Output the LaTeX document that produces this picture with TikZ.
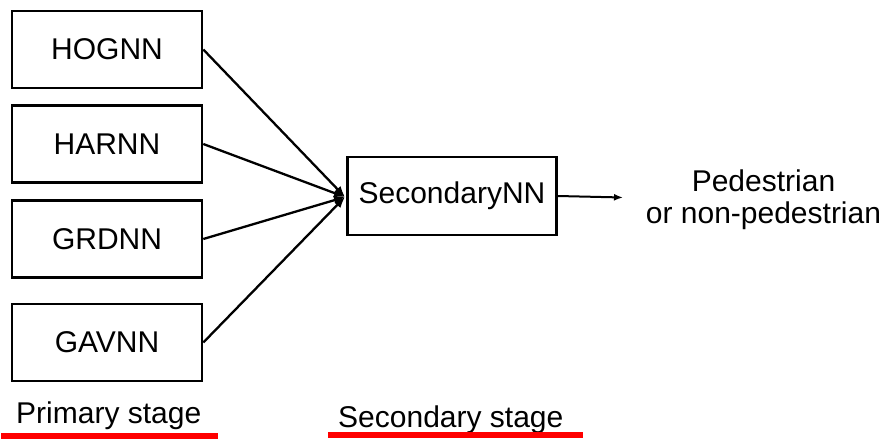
\documentclass[tikz,border=0pt]{standalone}
\usepackage{fontspec}
\setmainfont{Liberation Sans}
\usetikzlibrary{arrows.meta}
\begin{document}
\begin{tikzpicture}[x=1pt,y=-1pt,
  nnbox/.style={draw=black, line width=2.6pt, minimum width=190pt, minimum height=77pt,
    inner sep=0pt, font=\fontsize{30}{34}\selectfont},
  link/.style={line width=2.3pt, -{Latex[length=11pt,width=9pt]}},
  outlink/.style={line width=2pt, -{Latex[length=9pt,width=7pt]}},
  label/.style={font=\fontsize{30}{32}\selectfont, inner sep=0pt},
  underline/.style={red, line width=6pt}]
  \useasboundingbox (0,0) rectangle (888,439);

  % primary-stage networks
  \node[nnbox] (hog) at (107,49.5) {HOGNN};
  \node[nnbox] (har) at (107,144) {HARNN};
  \node[nnbox] (grd) at (107,239) {GRDNN};
  \node[nnbox] (gav) at (107,342.5) {GAVNN};

  % secondary-stage network
  \node[nnbox, minimum width=209pt, minimum height=78pt] (sec) at (452,196) {SecondaryNN};
  \coordinate (hub) at (345,197);
  \coordinate (out) at (623,197.5);

  \foreach \n in {hog,har,grd,gav}
    \draw[link] (\n.east) -- (hub);
  \draw[outlink] (sec.east) -- (out);

  \node[label, align=center] (result) at (763.5,200) {Pedestrian\\or non-pedestrian};

  % stage captions
  \node[label, anchor=base west] (primcap) at (16,423) {Primary stage};
  \node[label, anchor=base west] (seccap) at (338,427) {Secondary stage};
  \draw[underline] (1,436) -- (218,436);
  \draw[underline] (328,435) -- (583,435);
\end{tikzpicture}
\end{document}
